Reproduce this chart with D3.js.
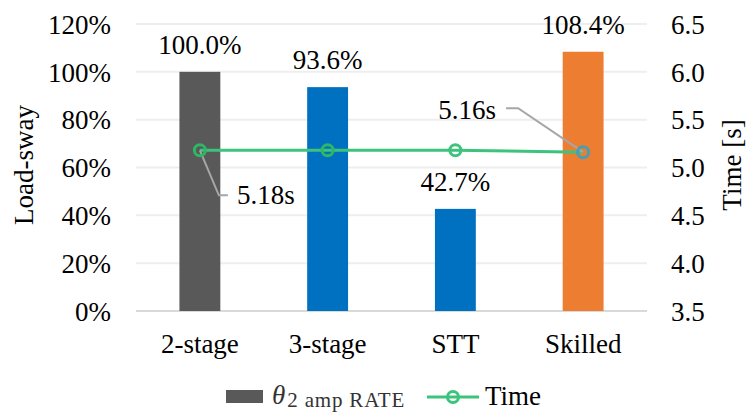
<!DOCTYPE html>
<html>
<head>
<meta charset="utf-8">
<script src="https://cdn.jsdelivr.net/npm/d3@7"></script>
<style>
  html, body { margin: 0; padding: 0; background: #fff; }
  #chart text { font-family: "Liberation Serif", "Times New Roman", "DejaVu Serif", serif !important; fill: #000; }
</style>
</head>
<body>
<svg id="chart" width="746" height="412"></svg>
<script>
// Categories and series
const categories = ["2-stage", "3-stage", "STT", "Skilled"];
const swayRate = [1.000, 0.936, 0.427, 1.084];     // θ2 amp RATE (fraction)
const timeSec = [5.18, 5.18, 5.18, 5.16];           // Time [s]
const barColors = ["#595959", "#0070C0", "#0070C0", "#ED7D31"];
const markerColors = ["#2DB765", "#2DB765", "#3CC47C", "#4A9DB3"];
const leftTicks = [0, 0.2, 0.4, 0.6, 0.8, 1.0, 1.2];
const rightTicks = [3.5, 4.0, 4.5, 5.0, 5.5, 6.0, 6.5];

const SERIF = '"Liberation Serif", "Times New Roman", serif';
const svg = d3.select("#chart").attr("font-family", SERIF);
const plot = { left: 136, right: 647, top: 24, bottom: 311 };

const x = d3.scaleBand().domain(categories).range([plot.left, plot.right]).paddingInner(0.68).paddingOuter(0.34);
const yL = d3.scaleLinear().domain([0, 1.2]).range([plot.bottom, plot.top]);
const yR = d3.scaleLinear().domain([3.5, 6.5]).range([plot.bottom, plot.top]);
const cx = c => x(c) + x.bandwidth() / 2;

// Gridlines
svg.append("g").selectAll("line").data(leftTicks).join("line")
  .attr("x1", plot.left).attr("x2", plot.right)
  .attr("y1", d => yL(d)).attr("y2", d => yL(d))
  .attr("stroke", d => d === 0 ? "#d9d9d9" : "#eeeeee").attr("stroke-width", 2);

// Left axis
const axL = svg.append("g").attr("transform", `translate(${plot.left - 25},0)`)
  .call(d3.axisLeft(yL).tickValues(leftTicks).tickFormat(d3.format(".0%")).tickSize(0).tickPadding(0))
  .attr("font-family", SERIF).attr("font-size", 27);
axL.select(".domain").remove();
axL.selectAll("text").attr("dy", "0.34em");

// Right axis
const axR = svg.append("g").attr("transform", `translate(${plot.right + 24},0)`)
  .call(d3.axisRight(yR).tickValues(rightTicks).tickFormat(d3.format(".1f")).tickSize(0).tickPadding(0))
  .attr("font-family", SERIF).attr("font-size", 27);
axR.select(".domain").remove();
axR.selectAll("text").attr("dy", "0.34em");

// Bottom category axis
const axB = svg.append("g").attr("transform", `translate(0,${plot.bottom})`)
  .call(d3.axisBottom(x).tickSize(0).tickPadding(0))
  .attr("font-family", SERIF).attr("font-size", 27);
axB.select(".domain").remove();
axB.selectAll("text").attr("dy", 0).attr("y", 42);

// Axis titles
svg.append("text").attr("transform", `translate(33,165) rotate(-90)`)
  .attr("text-anchor", "middle").attr("font-size", 27).text("Load-sway");
svg.append("text").attr("transform", `translate(741,165) rotate(-90)`)
  .attr("text-anchor", "middle").attr("font-size", 27).text("Time [s]");

// Bars
svg.append("g").selectAll("rect").data(categories).join("rect")
  .attr("x", d => x(d)).attr("width", x.bandwidth())
  .attr("y", (d, i) => yL(swayRate[i]))
  .attr("height", (d, i) => yL(0) - yL(swayRate[i]))
  .attr("fill", (d, i) => barColors[i]);

// Bar value labels
svg.append("g").selectAll("text").data(categories).join("text")
  .attr("x", d => cx(d)).attr("y", (d, i) => yL(swayRate[i]) - 18)
  .attr("text-anchor", "middle").attr("font-size", 27)
  .text((d, i) => d3.format(".1%")(swayRate[i]));

// Time line
const line = d3.line().x((d, i) => cx(categories[i])).y(d => yR(d));
svg.append("path").datum(timeSec).attr("d", line)
  .attr("fill", "none").attr("stroke", "#3CC47C").attr("stroke-width", 3);

// Leader lines and labels for the first and last time points
const first = { px: cx(categories[0]), py: yR(timeSec[0]) };
const last = { px: cx(categories[3]), py: yR(timeSec[3]) };
svg.append("polyline")
  .attr("points", [[first.px, first.py], [first.px + 19, first.py + 45], [first.px + 28, first.py + 45]].map(p => p.join(",")).join(" "))
  .attr("fill", "none").attr("stroke", "#a6a6a6").attr("stroke-width", 2);
svg.append("polyline")
  .attr("points", [[last.px, last.py], [last.px - 65, last.py - 44], [last.px - 77, last.py - 44]].map(p => p.join(",")).join(" "))
  .attr("fill", "none").attr("stroke", "#a6a6a6").attr("stroke-width", 2);

// Markers
svg.append("g").selectAll("circle").data(timeSec).join("circle")
  .attr("cx", (d, i) => cx(categories[i])).attr("cy", d => yR(d)).attr("r", 5.5)
  .attr("fill", "none").attr("stroke", (d, i) => markerColors[i]).attr("stroke-width", 3);

svg.append("text").attr("x", first.px + 37).attr("y", first.py + 54)
  .attr("font-size", 27).text(d3.format(".2f")(timeSec[0]) + "s");
svg.append("text").attr("x", last.px - 145).attr("y", last.py - 33)
  .attr("font-size", 27).text(d3.format(".2f")(timeSec[3]) + "s");

// Legend
const lg = svg.append("g");
lg.append("rect").attr("x", 226).attr("y", 390).attr("width", 37).attr("height", 13).attr("fill", barColors[0]);
const lt = lg.append("text").attr("x", 272).attr("y", 404);
lt.append("tspan").attr("font-size", 27).attr("font-style", "italic").style("fill", "#333").text("θ");
lt.append("tspan").attr("font-size", 21).attr("dy", 3).attr("dx", 2)
  .attr("textLength", 117).attr("lengthAdjust", "spacing")
  .style("fill", "#333").text("2 amp RATE");
lg.append("line").attr("x1", 427).attr("x2", 479).attr("y1", 397).attr("y2", 397)
  .attr("stroke", "#3CC47C").attr("stroke-width", 3);
lg.append("circle").attr("cx", 453).attr("cy", 397).attr("r", 5.5)
  .attr("fill", "none").attr("stroke", "#3CC47C").attr("stroke-width", 3);
lg.append("text").attr("x", 485).attr("y", 405).attr("font-size", 27).text("Time");
</script>
</body>
</html>
